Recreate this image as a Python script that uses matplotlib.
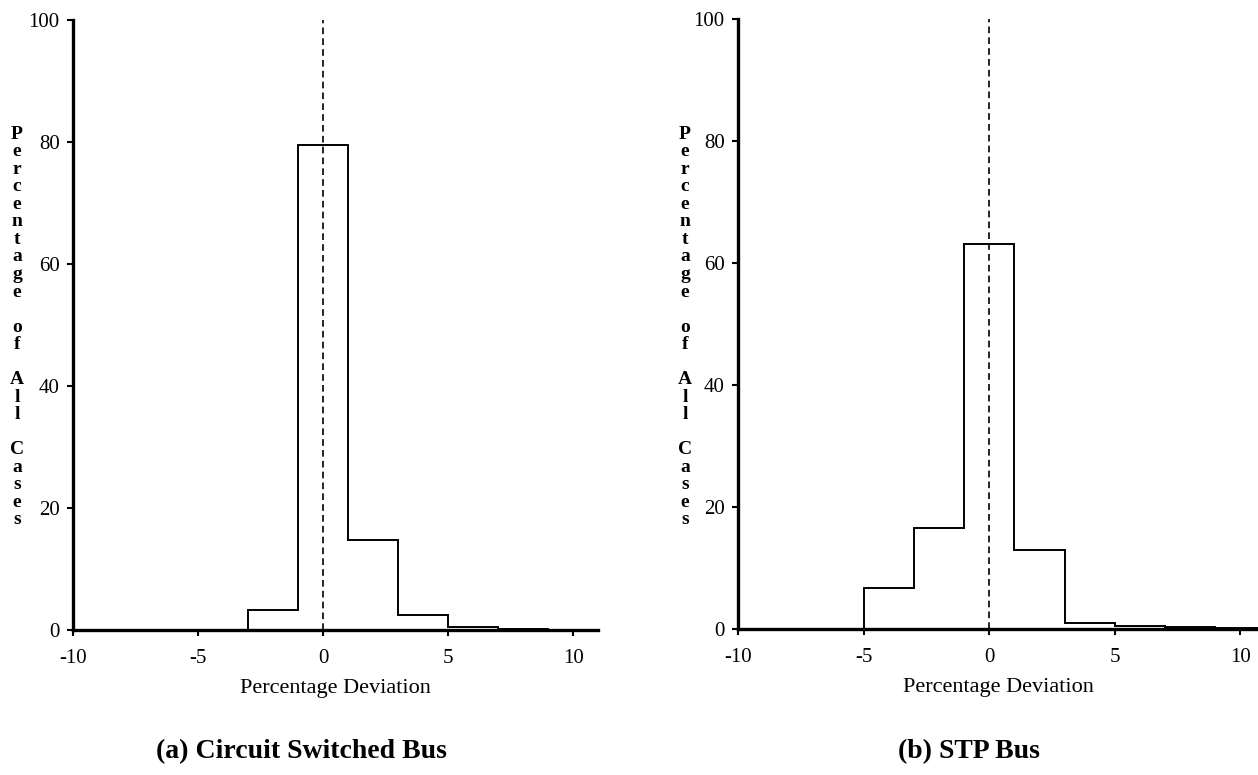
import matplotlib
matplotlib.use("Agg")
import matplotlib.pyplot as plt
import numpy as np

plt.rcParams['font.family'] = ['Liberation Serif', 'DejaVu Serif']

# bin edges (width 2, centred on even numbers)
bin_edges = np.arange(-11, 12, 2)

# percentage of all cases per bin
circuit_pct = [0, 0, 0, 0, 3.3, 79.5, 14.8, 2.5, 0.5, 0.1, 0]
stp_pct = [0, 0, 0, 6.8, 16.5, 63.1, 12.9, 0.9, 0.5, 0.3, 0.2]

x_ticks = [-10, -5, 0, 5, 10]
y_ticks = [0, 20, 40, 60, 80, 100]
captions = ["(a) Circuit Switched Bus", "(b) STP Bus"]
ylabel_text = "Percentage of All Cases"

fig = plt.figure(figsize=(12.58, 7.75), dpi=100)

axes_boxes = [
    [0.0580, 0.1871, 0.4174, 0.7871],
    [0.5866, 0.1884, 0.4134, 0.7871],
]
x_right = [11, 10.7]
label_x = [0.0135, 0.5445]
caption_x = [0.240, 0.770]

for i, (vals, box) in enumerate(zip([circuit_pct, stp_pct], axes_boxes)):
    ax = fig.add_axes(box)
    ax.stairs(vals, bin_edges, color='black', lw=1.4, baseline=0)
    ax.axvline(0, ymin=0, ymax=1, color='black', lw=1.2, ls=(0, (4, 2.5)))
    ax.set_xlim(-10, x_right[i])
    ax.set_ylim(0, 100)
    ax.set_xticks(x_ticks)
    ax.set_xticklabels([str(t) for t in x_ticks])
    ax.set_yticks(y_ticks)
    for s in ['top', 'right']:
        ax.spines[s].set_visible(False)
    for s in ['left', 'bottom']:
        ax.spines[s].set_linewidth(2.4)
    ax.tick_params(axis='both', direction='out', length=4.5, width=1.5, labelsize=15)
    ax.tick_params(axis='x', pad=9)
    ax.tick_params(axis='y', pad=5)
    ax.set_xlabel("Percentage Deviation", fontsize=16, labelpad=8)

    # stacked vertical y label, one letter per line
    stacked = "\n".join(ch if ch != " " else "" for ch in ylabel_text)
    fig.text(label_x[i], 0.578, stacked, ha='center', va='center',
             fontsize=14, fontweight='bold', linespacing=1.04)

    fig.text(caption_x[i], 0.030, captions[i], ha='center', va='center',
             fontsize=20, fontweight='bold')

fig.savefig("out.png", dpi=100)
